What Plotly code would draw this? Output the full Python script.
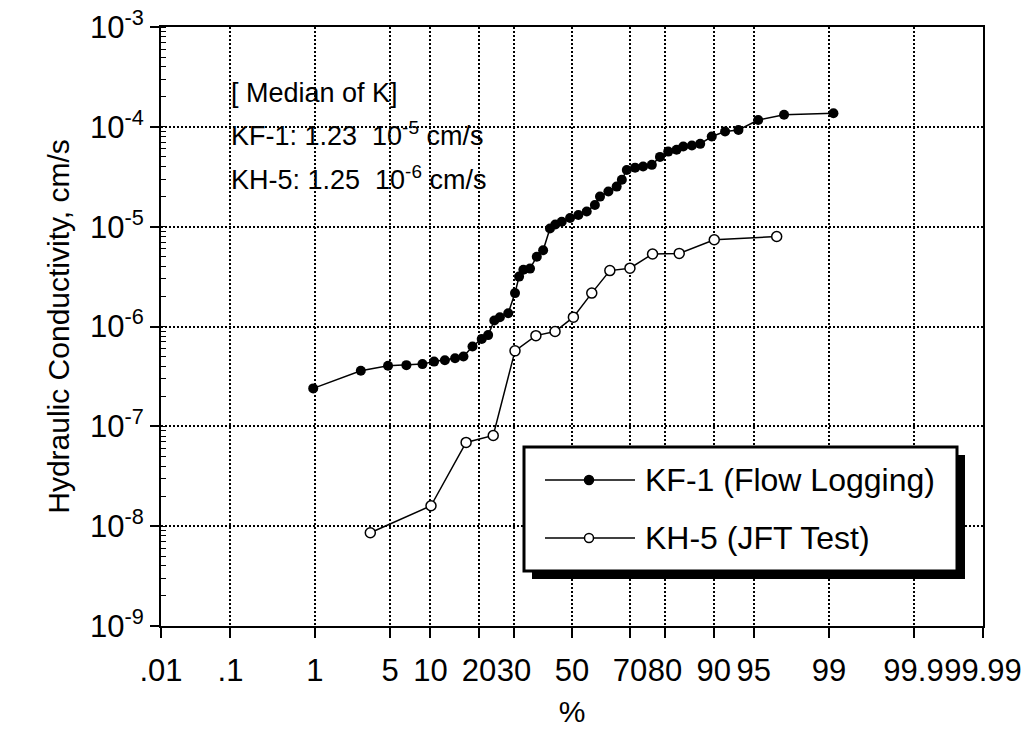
from statistics import NormalDist
import plotly.graph_objects as go

# ---------------- data ----------------
kf1_pct = [0.96, 2.8, 4.8, 6.7, 8.8, 10.6, 12.5, 14.5, 16.3, 18.4, 20.7, 22.4, 24.1, 25.7,
           28.2, 30.3, 31.6, 33.0, 35.2, 37.5, 39.7, 42.1, 44.0, 46.3, 49.3, 52.3, 55.3,
           58.2, 60.0, 62.9, 65.7, 67.4, 69.0, 71.6, 74.0, 76.5, 78.7, 80.8, 82.8, 84.3,
           86.1, 87.7, 89.7, 91.7, 93.4, 95.4, 97.25, 99.1]
kf1_k = [2.4e-7, 3.6e-7, 4.05e-7, 4.1e-7, 4.2e-7, 4.45e-7, 4.6e-7, 4.8e-7, 5.0e-7, 6.3e-7,
         7.5e-7, 8.2e-7, 1.15e-6, 1.24e-6, 1.36e-6, 2.16e-6, 3.16e-6, 3.7e-6, 3.8e-6, 5.0e-6,
         5.8e-6, 9.6e-6, 1.05e-5, 1.12e-5, 1.22e-5, 1.31e-5, 1.42e-5, 1.65e-5, 2.0e-5, 2.25e-5,
         2.52e-5, 2.95e-5, 3.7e-5, 3.9e-5, 4.0e-5, 4.16e-5, 5.0e-5, 5.65e-5, 5.9e-5, 6.35e-5,
         6.5e-5, 6.75e-5, 8.0e-5, 8.97e-5, 9.3e-5, 1.17e-4, 1.32e-4, 1.37e-4]

kh5_pct = [3.4, 10.1, 16.9, 23.8, 30.3, 37.2, 43.9, 50.5, 57.1, 63.4, 70.0, 76.7, 83.4, 90.1, 96.8]
kh5_k = [8.6e-9, 1.6e-8, 6.9e-8, 8.1e-8, 5.7e-7, 8.1e-7, 8.9e-7, 1.24e-6, 2.16e-6, 3.63e-6,
         3.84e-6, 5.33e-6, 5.4e-6, 7.4e-6, 7.97e-6]

x_tick_pct = [0.01, 0.1, 1, 5, 10, 20, 30, 50, 70, 80, 90, 95, 99, 99.9, 99.99]
x_tick_text = [".01", ".1", "1", "5", "10", "20", "30", "50", "70", "80", "90", "95", "99", "99.9", "99.99"]
y_tick_vals = [1e-9, 1e-8, 1e-7, 1e-6, 1e-5, 1e-4, 1e-3]
y_tick_text = ["10<sup>-9</sup>", "10<sup>-8</sup>", "10<sup>-7</sup>", "10<sup>-6</sup>",
               "10<sup>-5</sup>", "10<sup>-4</sup>", "10<sup>-3</sup>"]

series_names = ["KF-1 (Flow Logging)", "KH-5 (JFT Test)"]
note_lines = ["[ Median of K]",
              "KF-1: 1.23  10<sup>-5</sup> cm/s",
              "KH-5: 1.25  10<sup>-6</sup> cm/s"]

# ---------------- probability (probit) scale ----------------
nd = NormalDist()


def probit(pct):
    return nd.inv_cdf(pct / 100.0)


FONT = "Liberation Sans, Arial, sans-serif"

fig = go.Figure()
fig.add_trace(go.Scatter(
    x=[probit(p) for p in kf1_pct], y=kf1_k, mode="lines+markers", name=series_names[0],
    line=dict(color="black", width=1.5),
    marker=dict(symbol="circle", size=10, color="black"),
    showlegend=False))
fig.add_trace(go.Scatter(
    x=[probit(p) for p in kh5_pct], y=kh5_k, mode="lines+markers", name=series_names[1],
    line=dict(color="black", width=1.5),
    marker=dict(symbol="circle", size=10, color="white", line=dict(color="black", width=1.5)),
    showlegend=False))

# plot area in pixels: x 161..983, y 27..626
L, R, T, B = 161, 983, 27, 626


def px(xp):
    return (xp - L) / (R - L)


def py(yp):
    return (B - yp) / (B - T)


shapes = []
# legend shadow + box
shapes.append(dict(type="rect", xref="paper", yref="paper", x0=px(532), x1=px(965),
                   y0=py(579), y1=py(455), fillcolor="black", line=dict(width=0), layer="above"))
shapes.append(dict(type="rect", xref="paper", yref="paper", x0=px(524), x1=px(957),
                   y0=py(571), y1=py(447), fillcolor="white", line=dict(color="black", width=3),
                   layer="above"))
annotations = []
leg_rows = [480, 538]
for i, yrow in enumerate(leg_rows):
    shapes.append(dict(type="line", xref="paper", yref="paper", x0=px(545), x1=px(635),
                       y0=py(yrow), y1=py(yrow), line=dict(color="black", width=1.5), layer="above"))
    shapes.append(dict(type="circle", xref="paper", yref="paper", xsizemode="pixel",
                       ysizemode="pixel", xanchor=px(589), yanchor=py(yrow),
                       x0=-4.5, x1=4.5, y0=-4.5, y1=4.5,
                       fillcolor="black" if i == 0 else "white",
                       line=dict(color="black", width=1.5), layer="above"))
    annotations.append(dict(xref="paper", yref="paper", x=px(643), y=py(yrow),
                            xanchor="left", yanchor="middle", showarrow=False,
                            text=series_names[i], font=dict(family=FONT, size=32, color="black")))

for txt, yrow in zip(note_lines, [93, 134, 178]):
    annotations.append(dict(xref="paper", yref="paper", x=px(229), y=py(yrow),
                            xanchor="left", yanchor="middle", showarrow=False,
                            text=txt, font=dict(family=FONT, size=27, color="black")))

fig.update_layout(
    width=1030, height=732, autosize=False,
    margin=dict(l=L, r=1030 - R, t=T, b=732 - B, pad=0),
    paper_bgcolor="white", plot_bgcolor="white",
    font=dict(family=FONT, size=30, color="black"),
    shapes=shapes, annotations=annotations,
    showlegend=False,
)

fig.update_xaxes(
    range=[probit(0.01), probit(99.99)], automargin=False,
    tickmode="array", tickvals=[probit(p) for p in x_tick_pct], ticktext=x_tick_text,
    tickangle=0,
    tickfont=dict(size=31), ticks="outside", ticklen=10, tickwidth=1.5, tickcolor="black",
    ticklabelstandoff=6,
    showgrid=True, gridcolor="black", gridwidth=1.5, griddash="2px,2px",
    showline=True, linecolor="black", linewidth=2, mirror=True, zeroline=False,
    title=dict(text="%", font=dict(size=30), standoff=14),
)
fig.update_yaxes(
    type="log", range=[-9, -3], automargin=False,
    tickmode="array", tickvals=y_tick_vals, ticktext=y_tick_text,
    tickfont=dict(size=31), ticks="outside", ticklen=9, tickwidth=1.5, tickcolor="black",
    minor=dict(ticks="inside", ticklen=5, tickwidth=1, tickcolor="black", dtick="D1", showgrid=False),
    showgrid=True, gridcolor="black", gridwidth=1.5, griddash="2px,2px",
    showline=True, linecolor="black", linewidth=2, mirror=True, zeroline=False,
    title=dict(text="Hydraulic Conductivity, cm/s", font=dict(size=30), standoff=12),
)

fig.write_html("out.html")
